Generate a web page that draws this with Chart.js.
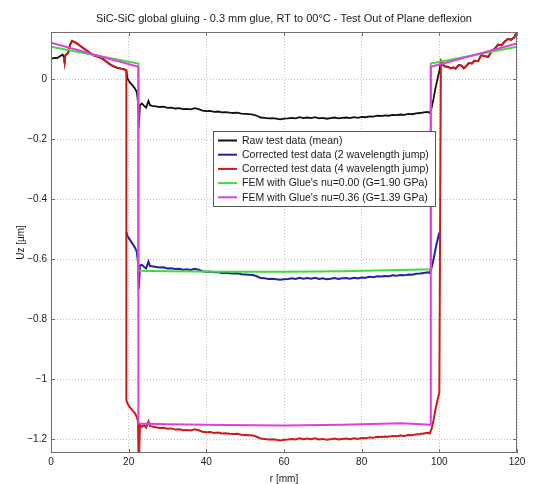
<!DOCTYPE html>
<html>
<head>
<meta charset="utf-8">
<title>SiC-SiC global gluing</title>
<script src="https://cdn.jsdelivr.net/npm/chart.js@4.4.1/dist/chart.umd.min.js"></script>
<style>
body{margin:0;background:#fff;}
#wrap{width:534px;height:484px;}
</style>
</head>
<body>
<div id="wrap"><canvas id="uzChart" width="534" height="484"></canvas></div>
<script>
// axis ranges and ticks
var xMin = 0, xMax = 120;
var yMin = -1.245, yMax = 0.158;
var xTicks = [0, 20, 40, 60, 80, 100, 120];
var yTicks = [-1.2, -1, -0.8, -0.6, -0.4, -0.2, 0];
var yTickLabels = ['\u22121.2', '\u22121', '\u22120.8', '\u22120.6', '\u22120.4', '\u22120.2', '0'];

var legendLabels = [
    'Raw test data (mean)',
    'Corrected test data (2 wavelength jump)',
    'Corrected test data (4 wavelength jump)',
    "FEM with Glue's nu=0.00 (G=1.90 GPa)",
    "FEM with Glue's nu=0.36 (G=1.39 GPa)"
];

// raw data, start (only black visible here)
var blackHeadR  = [0, 0.8, 1.6, 2.4, 3.0];
var blackHeadUz = [0.068, 0.072, 0.071, 0.078, 0.083];

// outer left part, same for raw and 4-jump curve
var rLeft  = [3.3, 3.5, 3.7, 4.4, 5.0, 5.4, 6.2, 7.0, 8.0, 9.0, 10.0, 11.0, 12.0, 13.0, 14.0, 15.0, 16.0, 17.0, 18.0, 19.0, 19.4];
var uzLeft = [0.075, 0.057, 0.080, 0.088, 0.118, 0.128, 0.124, 0.117, 0.107, 0.098, 0.089, 0.080, 0.076, 0.071, 0.062, 0.052, 0.044, 0.039, 0.036, 0.033, 0.030];

// outer right part
var rRight  = [100.4, 100.8, 101.5, 102.2, 103.0, 103.6, 104.2, 105.0, 105.7, 106.3, 107.0, 107.6, 108.4, 109.0, 110.0, 110.8, 111.5, 112.6, 113.5, 114.3, 115.1, 116.0, 117.0, 117.7, 118.5, 119.3, 119.8, 120];
var uzRight = [0.060, 0.050, 0.043, 0.042, 0.037, 0.040, 0.036, 0.048, 0.046, 0.037, 0.045, 0.055, 0.053, 0.062, 0.061, 0.082, 0.078, 0.075, 0.095, 0.103, 0.116, 0.114, 0.128, 0.135, 0.132, 0.140, 0.155, 0.159];

// inner (glued) zone
var rInner = [19.4, 19.7, 20.3, 21.0, 21.6, 22.1, 22.4, 22.6, 22.9, 23.4, 24.0, 24.5, 25.1, 25.5,
    26, 27, 28, 29, 30, 31, 32, 33, 34, 35,
    36, 37, 38, 39, 40, 41, 42, 43, 44, 45,
    46, 47, 48, 49, 50, 51, 52, 53, 54, 55,
    56, 57, 58, 59, 60, 61, 62, 63, 64, 65,
    66, 67, 68, 69, 70, 71, 72, 73, 74, 75,
    76, 77, 78, 79, 80, 81, 82, 83, 84, 85,
    86, 87, 88, 89, 90, 91, 92, 93, 94, 95,
    96, 97, 97.5, 98.0, 98.5, 99.0, 99.5, 100.0];

var uzBlackInner = [0.030, 0.002, -0.010, -0.020, -0.030, -0.042, -0.075, -0.160, -0.085, -0.080, -0.088, -0.094, -0.072, -0.086,
    -0.088, -0.090, -0.092, -0.091, -0.095, -0.094, -0.097, -0.096, -0.099, -0.098,
    -0.100, -0.096, -0.099, -0.104, -0.106, -0.105, -0.108, -0.107, -0.110, -0.109,
    -0.111, -0.112, -0.111, -0.114, -0.115, -0.116, -0.117, -0.121, -0.127, -0.128,
    -0.130, -0.129, -0.131, -0.133, -0.131, -0.130, -0.128, -0.130, -0.126, -0.129,
    -0.127, -0.129, -0.126, -0.130, -0.128, -0.131, -0.129, -0.127, -0.130, -0.128,
    -0.127, -0.129, -0.126, -0.128, -0.125, -0.126, -0.123, -0.124, -0.121, -0.122,
    -0.120, -0.121, -0.118, -0.119, -0.117, -0.118, -0.115, -0.116, -0.113, -0.112,
    -0.110, -0.108, -0.112, -0.095, -0.065, -0.030, 0.000, 0.028];

var uzBlueInner = [-0.508, -0.522, -0.534, -0.548, -0.560, -0.575, -0.610, -0.698, -0.620, -0.618, -0.625, -0.630, -0.607, -0.622,
    -0.623, -0.625, -0.627, -0.626, -0.630, -0.629, -0.632, -0.631, -0.634, -0.633,
    -0.635, -0.631, -0.634, -0.639, -0.641, -0.640, -0.643, -0.642, -0.645, -0.644,
    -0.646, -0.647, -0.646, -0.649, -0.650, -0.651, -0.652, -0.656, -0.662, -0.663,
    -0.665, -0.664, -0.666, -0.668, -0.666, -0.665, -0.663, -0.665, -0.661, -0.664,
    -0.662, -0.664, -0.661, -0.665, -0.663, -0.666, -0.664, -0.662, -0.665, -0.663,
    -0.662, -0.664, -0.661, -0.663, -0.660, -0.661, -0.658, -0.659, -0.656, -0.657,
    -0.655, -0.656, -0.653, -0.654, -0.652, -0.653, -0.650, -0.651, -0.648, -0.647,
    -0.645, -0.643, -0.645, -0.628, -0.600, -0.566, -0.537, -0.510];

var uzRedInner = [-1.068, -1.080, -1.092, -1.104, -1.112, -1.125, -1.140, -1.300, -1.150, -1.158, -1.152, -1.160, -1.140, -1.155,
    -1.157, -1.159, -1.162, -1.161, -1.164, -1.163, -1.167, -1.166, -1.169, -1.168,
    -1.170, -1.166, -1.169, -1.174, -1.176, -1.175, -1.178, -1.177, -1.180, -1.179,
    -1.181, -1.182, -1.181, -1.184, -1.185, -1.186, -1.187, -1.191, -1.197, -1.198,
    -1.200, -1.199, -1.201, -1.203, -1.201, -1.200, -1.198, -1.200, -1.196, -1.199,
    -1.197, -1.199, -1.196, -1.200, -1.198, -1.201, -1.199, -1.197, -1.200, -1.198,
    -1.197, -1.199, -1.196, -1.198, -1.195, -1.196, -1.193, -1.194, -1.191, -1.192,
    -1.190, -1.191, -1.188, -1.189, -1.187, -1.188, -1.185, -1.186, -1.183, -1.182,
    -1.180, -1.178, -1.180, -1.165, -1.137, -1.100, -1.070, -1.045];

// FEM results
var rFem      = [0, 22.5, 22.5, 30, 45, 60, 75, 90, 97.8, 97.8, 120];
var uzFemNu0  = [0.109, 0.053, -0.638, -0.639, -0.641, -0.641, -0.639, -0.635, -0.633, 0.053, 0.109];
var uzFemNu36 = [0.122, 0.042, -1.147, -1.149, -1.152, -1.153, -1.151, -1.146, -1.151, 0.042, 0.120];

var FONT = "'Liberation Sans', Arial, Helvetica, sans-serif";
var lineColors = ['#111111', '#24249c', '#cc1b1b', '#3fdc3f', '#de3fde'];

function pts(rs, uzs){
    return rs.map(function(r, i){ return {x: r, y: uzs[i]}; });
}

// frame with inward ticks, matlab style
var axesBox = {
    id: 'axesBox',
    afterDatasetsDraw: function(chart){
        var ctx = chart.ctx, a = chart.chartArea, sx = chart.scales.x, sy = chart.scales.y;
        ctx.save();
        ctx.strokeStyle = '#707070';
        ctx.lineWidth = 1;
        ctx.strokeRect(a.left + 0.5, a.top + 0.5, a.right - a.left - 1, a.bottom - a.top - 1);
        ctx.beginPath();
        sx.ticks.forEach(function(t){
            var px = Math.round(sx.getPixelForValue(t.value)) + 0.5;
            ctx.moveTo(px, a.bottom); ctx.lineTo(px, a.bottom - 4);
            ctx.moveTo(px, a.top); ctx.lineTo(px, a.top + 4);
        });
        sy.ticks.forEach(function(t){
            var py = Math.round(sy.getPixelForValue(t.value)) + 0.5;
            ctx.moveTo(a.left, py); ctx.lineTo(a.left + 4, py);
            ctx.moveTo(a.right, py); ctx.lineTo(a.right - 4, py);
        });
        ctx.stroke();
        ctx.restore();
    }
};

// legend box inside the axes
var boxLegend = {
    id: 'boxLegend',
    afterDraw: function(chart){
        var ctx = chart.ctx, a = chart.chartArea;
        var bx = a.left + 162, by = a.top + 99, bw = 223, bh = 76;
        ctx.save();
        ctx.fillStyle = '#ffffff';
        ctx.fillRect(bx, by, bw, bh);
        ctx.strokeStyle = '#555555';
        ctx.lineWidth = 1;
        ctx.strokeRect(bx + 0.5, by + 0.5, bw - 1, bh - 1);
        ctx.font = '10.5px ' + FONT;
        ctx.textBaseline = 'middle';
        ctx.textAlign = 'left';
        chart.data.datasets.forEach(function(ds, i){
            var cy = by + 9.5 + i * 14.2;
            ctx.strokeStyle = ds.borderColor;
            ctx.lineWidth = 2;
            ctx.beginPath();
            ctx.moveTo(bx + 5, cy);
            ctx.lineTo(bx + 24, cy);
            ctx.stroke();
            ctx.fillStyle = '#1a1a1a';
            ctx.fillText(ds.label, bx + 29, cy + 0.5);
        });
        ctx.restore();
    }
};

var ctx = document.getElementById('uzChart').getContext('2d');
var uzChart = new Chart(ctx, {
    type: 'line',
    data: {
        datasets: [{
            label: legendLabels[0],
            data: pts(blackHeadR.concat(rLeft, rInner, rRight), blackHeadUz.concat(uzLeft, uzBlackInner, uzRight)),
            borderColor: lineColors[0],
            borderWidth: 1.8,
            order: 5
        }, {
            label: legendLabels[1],
            data: pts(rInner, uzBlueInner),
            borderColor: lineColors[1],
            borderWidth: 2,
            order: 4
        }, {
            label: legendLabels[2],
            data: pts(rLeft.concat(rInner, rRight), uzLeft.concat(uzRedInner, uzRight)),
            borderColor: lineColors[2],
            borderWidth: 2,
            order: 3
        }, {
            label: legendLabels[3],
            data: pts(rFem, uzFemNu0),
            borderColor: lineColors[3],
            borderWidth: 2,
            order: 2
        }, {
            label: legendLabels[4],
            data: pts(rFem, uzFemNu36),
            borderColor: lineColors[4],
            borderWidth: 2,
            order: 1
        }]
    },
    options: {
        responsive: false,
        animation: false,
        devicePixelRatio: 1,
        layout: {padding: {left: 0, right: 17, top: 0, bottom: 0}},
        elements: {
            point: {radius: 0},
            line: {tension: 0, fill: false}
        },
        datasets: {line: {clip: 0}},
        plugins: {
            legend: {display: false},
            tooltip: {enabled: false},
            title: {
                display: true,
                fullSize: false,
                text: 'SiC-SiC global gluing - 0.3 mm glue, RT to 00°C - Test Out of Plane deflexion',
                color: '#1a1a1a',
                font: {family: FONT, size: 11, weight: 'normal'},
                padding: {top: 12.5, bottom: 6.3}
            }
        },
        scales: {
            x: {
                type: 'linear',
                min: xMin,
                max: xMax,
                afterBuildTicks: function(s){ s.ticks = xTicks.map(function(v){ return {value: v}; }); },
                afterFit: function(s){ s.height = 31; },
                grid: {color: '#c4c4c4', lineWidth: 1, drawTicks: false},
                border: {display: false, dash: [1, 2]},
                ticks: {color: '#1a1a1a', font: {family: FONT, size: 10}, padding: 3.5, maxRotation: 0},
                title: {display: true, text: 'r [mm]', color: '#1a1a1a', font: {family: FONT, size: 10, lineHeight: 1}, padding: {top: 0, bottom: 0}}
            },
            y: {
                type: 'linear',
                min: yMin,
                max: yMax,
                afterBuildTicks: function(s){ s.ticks = yTicks.map(function(v){ return {value: v}; }); },
                afterFit: function(s){ s.width = 51; },
                grid: {color: '#c4c4c4', lineWidth: 1, drawTicks: false},
                border: {display: false, dash: [1, 2]},
                ticks: {
                    color: '#1a1a1a',
                    font: {family: FONT, size: 10},
                    padding: 4,
                    callback: function(v, i){ return yTickLabels[i]; }
                },
                title: {display: true, text: 'Uz [µm]', color: '#1a1a1a', font: {family: FONT, size: 10}, padding: {top: 15, bottom: 0}}
            }
        }
    },
    plugins: [axesBox, boxLegend]
});
</script>
</body>
</html>
